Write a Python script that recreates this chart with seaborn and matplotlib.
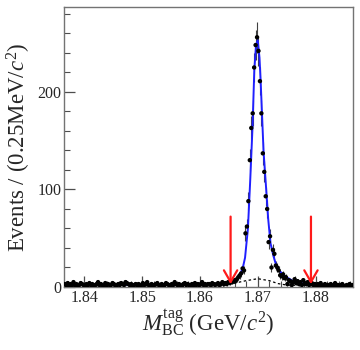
"""Beam-constrained mass fit of the tag side, with the signal window arrows."""

import matplotlib

matplotlib.use("Agg")
import matplotlib.pyplot as plt
import numpy as np
import pandas as pd
import seaborn as sns
from matplotlib.ticker import MultipleLocator

# histogram: 200 bins of 0.25 MeV between 1.8365 and 1.8865 GeV
x_lo, x_hi, n_bins = 1.8365, 1.8865, 200
counts = (
    [3, 2, 4, 1, 3, 2, 5, 2, 3, 1, 2, 4, 3, 2, 1, 3, 2, 4, 2, 3,
     1, 2, 3, 5, 2, 3, 2, 1, 4, 2, 3, 2, 2, 4, 3, 1, 2, 3, 2, 4,
     3, 2, 5, 4, 3, 2, 3, 1, 2, 3, 2, 3, 1, 2, 4, 2, 3, 5, 2, 1,
     3, 2, 2, 3, 4, 2, 1, 3, 2, 2, 4, 3, 2, 1, 3, 2, 5, 3, 2, 3,
     2, 1, 3, 4, 2, 3, 2, 2, 3, 1, 4, 2, 3, 2, 3, 5, 2, 3, 2, 3]
    + [3, 2, 4, 3, 2, 3, 4, 2, 3, 5, 3, 4, 3, 5, 4, 6, 5, 7, 6, 8]
    + [10, 12, 14, 19, 17, 55, 62, 88, 130, 163, 178, 225, 248, 256,
       242, 211, 178, 137, 118, 93, 80, 46, 52, 20, 38, 34, 22, 20, 17,
       12, 11, 13, 9, 10, 3]
    + [7, 6, 2, 5, 8, 4, 6, 3, 5, 2, 7, 4, 3, 5, 2, 3]
    + [4, 2, 3, 1, 3, 2, 4, 1, 2, 3, 1, 2, 2, 3, 1, 2, 4, 1, 2, 1,
       2, 3, 1, 1, 2, 1, 3, 1, 2]
)

# total fit (signal + background)
fit_x = [1.8365, 1.845, 1.855, 1.861, 1.864, 1.8655, 1.8665, 1.867, 1.8675,
         1.8678, 1.8683, 1.8687, 1.8691, 1.8694, 1.8697, 1.8700, 1.8703,
         1.8705, 1.8710, 1.8714, 1.8718, 1.8722, 1.8727, 1.8731, 1.8737,
         1.8747, 1.876, 1.8775, 1.879, 1.882, 1.8865]
fit_y = [2.5, 2.2, 2.0, 2.2, 3.0, 4.5, 8, 13, 22, 30, 60, 110, 165, 222, 248,
         253, 235, 211, 139, 105, 70, 45, 32, 24, 17, 11, 6.5, 4, 2.5, 1.6, 1.0]

# background component (dashed)
bkg_x = [1.8365, 1.862, 1.864, 1.866, 1.868, 1.870, 1.872, 1.8735, 1.875,
         1.878, 1.8865]
bkg_y = [1.5, 1.5, 2.0, 4.0, 6.5, 8.5, 6.5, 3.5, 2.0, 1.5, 1.2]

# signal window cuts
cut_x = [1.8653, 1.8792]
cut_top = 75


def main() -> None:
    sns.set_theme(style="ticks")
    plt.rcParams["font.family"] = ["Liberation Serif", "DejaVu Serif"]
    plt.rcParams["mathtext.fontset"] = "custom"
    plt.rcParams["mathtext.rm"] = "Liberation Serif"
    plt.rcParams["mathtext.it"] = "Liberation Serif:italic"

    assert len(counts) == n_bins
    width = (x_hi - x_lo) / n_bins
    centers = np.linspace(x_lo + width / 2, x_hi - width / 2, n_bins)
    hist = pd.DataFrame({"x": centers, "n": counts})
    hist["err"] = np.sqrt(hist["n"])

    fig = plt.figure(figsize=(3.6, 3.5), dpi=100)
    ax = fig.add_axes([0.178, 0.18, 0.803, 0.80])

    ax.errorbar(hist["x"], hist["n"], yerr=hist["err"], fmt="none",
                ecolor="0.25", elinewidth=0.8, zorder=2)
    sns.lineplot(x=fit_x, y=fit_y, ax=ax, color="#1f1fff", linewidth=1.4,
                 zorder=3)
    sns.lineplot(x=bkg_x, y=bkg_y, ax=ax, color="black", linewidth=0.9,
                 linestyle=(0, (2, 2)), zorder=3)
    sns.scatterplot(data=hist, x="x", y="n", ax=ax, color="black", s=10,
                    edgecolor="none", zorder=4)

    for xc in cut_x:
        ax.annotate("", xy=(xc, 0), xytext=(xc, cut_top),
                    arrowprops=dict(arrowstyle="->,head_length=0.7,head_width=0.4",
                                    color="#ff1a1a", lw=1.6), zorder=5)

    ax.set_xlim(x_lo, x_hi)
    ax.set_ylim(0, 287)
    ax.xaxis.set_major_locator(MultipleLocator(0.01))
    ax.xaxis.set_minor_locator(MultipleLocator(0.002))
    ax.yaxis.set_major_locator(MultipleLocator(100))
    ax.yaxis.set_minor_locator(MultipleLocator(20))
    ax.xaxis.set_major_formatter(plt.FuncFormatter(lambda v, _: f"{v:.2f}"))
    ax.tick_params(which="both", direction="in", color="0.3", labelsize=11.5,
                   pad=2, top=False, right=False)
    ax.tick_params(which="major", length=8, width=0.9)
    ax.tick_params(which="minor", length=4, width=0.8)
    for side in ax.spines.values():
        side.set_color("0.45")
        side.set_linewidth(1.0)

    ax.set_xlabel(r"$M_{\rm BC}^{\rm tag}$ (GeV/$c^2$)", fontsize=16.5, labelpad=1)
    ax.set_ylabel(r"Events / (0.25MeV/$c^2$)", fontsize=16.5, labelpad=3)

    fig.savefig("out.png", dpi=100)
    plt.close(fig)


if __name__ == "__main__":
    main()
